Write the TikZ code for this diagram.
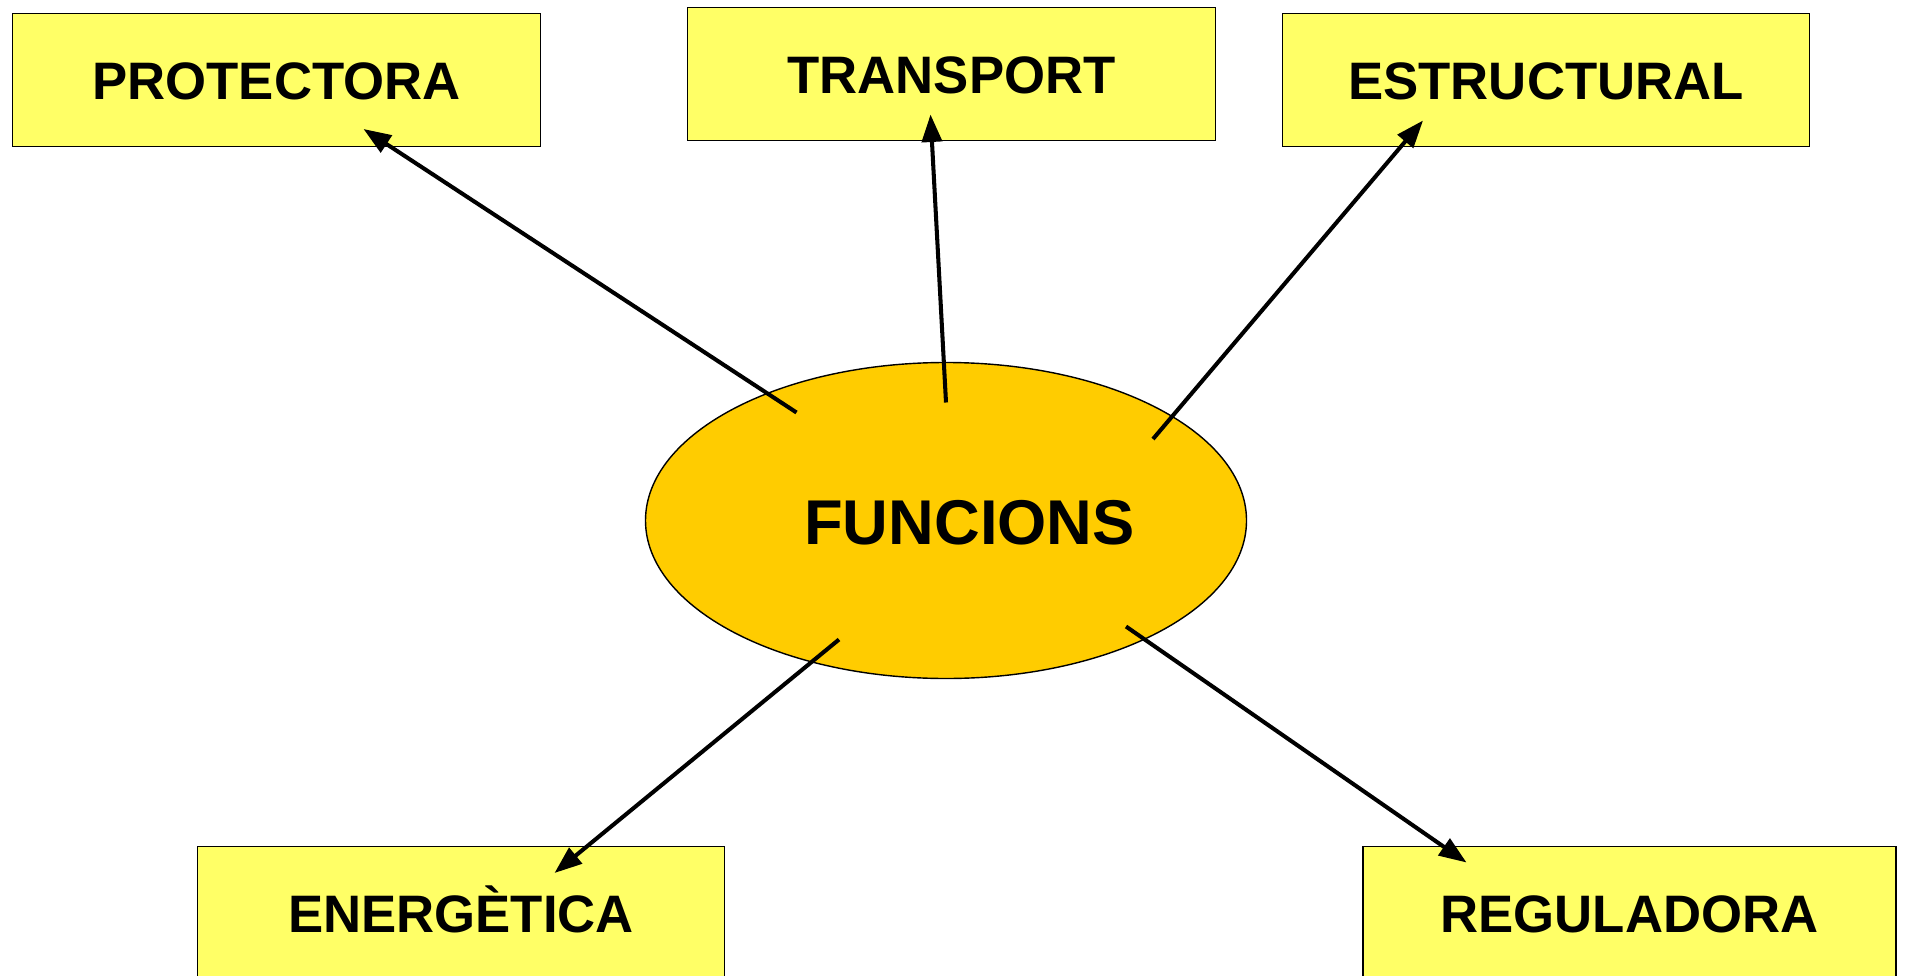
\documentclass[tikz,border=0pt]{standalone}
\usepackage{fontspec}
\setmainfont{Liberation Sans}
\usepackage{tikz}
\usetikzlibrary{arrows.meta,shapes.geometric}
\definecolor{boxyellow}{HTML}{FFFF66}
\definecolor{ovalgold}{HTML}{FFCC00}
\tikzset{
  funcbox/.style={draw=black, line width=0.8pt, fill=boxyellow, minimum width=10.55cm, minimum height=2.66cm, inner sep=0pt, font=\fontsize{30}{36}\selectfont\bfseries, text height=0.77cm, text depth=0pt},
  funcarrow/.style={black, line width=2.3pt, -{Triangle[length=0.55cm,width=0.4cm]}}
}

\begin{document}
\begin{tikzpicture}
\useasboundingbox (0cm,0cm) rectangle (38.14cm,-19.52cm);
\node[ellipse, draw=black, line width=0.8pt, fill=ovalgold, minimum width=12.02cm, minimum height=6.32cm, inner sep=0pt] (funcions) at (18.92cm,-10.41cm) {};
\node[font=\fontsize{36}{42}\selectfont\bfseries] (funcionstext) at (19.39cm,-10.46cm) {FUNCIONS};
\node[funcbox] (protectora) at (5.53cm,-1.6cm) {PROTECTORA};
\node[funcbox] (transport) at (19.03cm,-1.48cm) {TRANSPORT};
\node[funcbox] (estructural) at (30.92cm,-1.6cm) {ESTRUCTURAL};
\node[funcbox] (energetica) at (9.22cm,-18.26cm) {ENERGÈTICA};
\node[funcbox, minimum width=10.66cm] (reguladora) at (32.59cm,-18.26cm) {REGULADORA};
\coordinate (fromprot) at (15.93cm,-8.25cm);
\coordinate (toprot) at (7.27cm,-2.58cm);
\coordinate (fromtrans) at (18.92cm,-8.05cm);
\coordinate (totrans) at (18.61cm,-2.29cm);
\coordinate (fromestr) at (23.06cm,-8.78cm);
\coordinate (toestr) at (28.46cm,-2.41cm);
\coordinate (fromener) at (16.78cm,-12.79cm);
\coordinate (toener) at (11.09cm,-17.46cm);
\coordinate (fromreg) at (22.52cm,-12.53cm);
\coordinate (toreg) at (29.33cm,-17.25cm);
\draw[funcarrow] (fromprot) -- (toprot);
\draw[funcarrow] (fromtrans) -- (totrans);
\draw[funcarrow] (fromestr) -- (toestr);
\draw[funcarrow] (fromener) -- (toener);
\draw[funcarrow] (fromreg) -- (toreg);
\end{tikzpicture}
\end{document}
